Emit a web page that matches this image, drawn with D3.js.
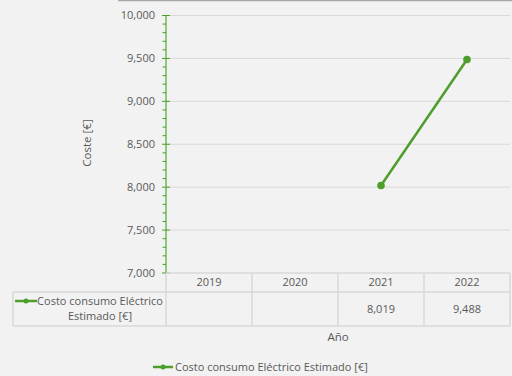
<!DOCTYPE html>
<html>
<head>
<meta charset="utf-8">
<script src="https://cdn.jsdelivr.net/npm/d3@7"></script>
<style>
  body { margin: 0; background: #f2f2f2; }
  svg { display: block; font-family: "Open Sans", "Noto Sans", sans-serif; }
  .tick-label { font-size: 11px; fill: #595959; }
  .axis-title { font-size: 11.5px; fill: #595959; }
</style>
</head>
<body>
<svg id="chart" width="512" height="376"></svg>
<script>

/* DATA */

const years = ["2019", "2020", "2021", "2022"];
const costs = [null, null, 8019, 9488];
const costLabels = ["", "", "8,019", "9,488"];
const yTicks = [7000, 7500, 8000, 8500, 9000, 9500, 10000];
const seriesName = "Costo consumo Eléctrico Estimado [€]";
const seriesNameLines = ["Costo consumo Eléctrico", "Estimado [€]"];

const green = "#4e9e2b";
const gridColor = "#d9d9d9";

let svg = d3.select("svg#chart");

svg.append("rect").attr("width", 512).attr("height", 376).attr("fill", "#f2f2f2");
// top border
svg.append("line").attr("x1", 118).attr("x2", 512).attr("y1", 0.5).attr("y2", 0.5)
  .attr("stroke", "#a6a6a6").attr("stroke-width", 1.5);

/* SCALES */

let xScale = d3.scaleBand().domain(years).range([166, 510]);
let yScale = d3.scaleLinear().domain([7000, 10000]).range([273, 15.5]);

/* GRID */

svg.append("g").selectAll("line")
  .data(yTicks.slice(1))
  .join("line")
  .attr("x1", 166).attr("x2", 510)
  .attr("y1", d => yScale(d)).attr("y2", d => yScale(d))
  .attr("stroke", gridColor).attr("stroke-width", 1);

/* Y AXIS */

const minorTicks = d3.range(7000, 10001, 100);
svg.append("line").attr("x1", 166).attr("x2", 166)
  .attr("y1", yScale(10000)).attr("y2", yScale(7000))
  .attr("stroke", "#8cc97a").attr("stroke-width", 2);

svg.append("g").selectAll("line")
  .data(minorTicks)
  .join("line")
  .attr("x1", d => d % 500 === 0 ? 162 : 162.5)
  .attr("x2", d => d % 500 === 0 ? 170 : 166)
  .attr("y1", d => yScale(d)).attr("y2", d => yScale(d))
  .attr("stroke", green).attr("stroke-width", 1);

svg.append("g").selectAll("text")
  .data(yTicks)
  .join("text")
  .attr("class", "tick-label")
  .attr("x", 155).attr("y", d => yScale(d))
  .attr("dy", "0.35em")
  .attr("text-anchor", "end")
  .text(d => d3.format(",")(d));

/* Y TITLE */

svg.append("text")
  .attr("class", "axis-title")
  .attr("transform", "translate(87," + 143 + ") rotate(-90)")
  .attr("dy", "0.35em")
  .attr("text-anchor", "middle")
  .text("Coste [€]");

/* DATA TABLE */

const tableTop = 273, rowLine = 292, tableBottom = 326, legendLeft = 13;
const table = svg.append("g").attr("stroke", gridColor).attr("stroke-width", 1.5);
table.append("line").attr("x1", 166).attr("x2", 510).attr("y1", tableTop).attr("y2", tableTop);
table.append("line").attr("x1", legendLeft).attr("x2", 510).attr("y1", rowLine).attr("y2", rowLine);
table.append("line").attr("x1", legendLeft).attr("x2", 510).attr("y1", tableBottom).attr("y2", tableBottom);
table.append("line").attr("x1", legendLeft).attr("x2", legendLeft).attr("y1", rowLine).attr("y2", tableBottom);
table.selectAll("line.col")
  .data(years.concat(["end"]))
  .join("line")
  .attr("class", "col")
  .attr("x1", (d, i) => i < years.length ? xScale(d) : xScale.range()[1])
  .attr("x2", (d, i) => i < years.length ? xScale(d) : xScale.range()[1])
  .attr("y1", tableTop).attr("y2", tableBottom);

svg.append("g").selectAll("text")
  .data(years)
  .join("text")
  .attr("class", "tick-label")
  .attr("x", d => xScale(d) + xScale.bandwidth() / 2)
  .attr("y", (tableTop + rowLine) / 2)
  .attr("dy", "0.35em")
  .attr("text-anchor", "middle")
  .text(d => d);

svg.append("g").selectAll("text")
  .data(costLabels)
  .join("text")
  .attr("class", "tick-label")
  .attr("x", (d, i) => xScale(years[i]) + xScale.bandwidth() / 2)
  .attr("y", (rowLine + tableBottom) / 2)
  .attr("dy", "0.35em")
  .attr("text-anchor", "middle")
  .text(d => d);

// legend key inside the table
const key = svg.append("g");
key.append("line").attr("x1", 15).attr("x2", 37).attr("y1", 301).attr("y2", 301)
  .attr("stroke", green).attr("stroke-width", 2.5);
key.append("circle").attr("cx", 26).attr("cy", 301).attr("r", 2.5).attr("fill", green);
key.append("text").attr("class", "tick-label")
  .attr("x", 163).attr("y", 301).attr("dy", "0.35em")
  .attr("text-anchor", "end").text(seriesNameLines[0]);
key.append("text").attr("class", "tick-label")
  .attr("x", 100).attr("y", 316).attr("dy", "0.35em")
  .attr("text-anchor", "middle").text(seriesNameLines[1]);

/* X TITLE */

svg.append("text")
  .attr("class", "axis-title")
  .attr("x", 338).attr("y", 337)
  .attr("dy", "0.35em")
  .attr("text-anchor", "middle")
  .text("Año");

/* LINE */

const points = years.map((y, i) => ({ year: y, value: costs[i] })).filter(d => d.value !== null);

svg.append("path")
  .datum(points)
  .attr("fill", "none")
  .attr("stroke", green)
  .attr("stroke-width", 2.5)
  .attr("d", d3.line()
    .x(d => xScale(d.year) + xScale.bandwidth() / 2)
    .y(d => yScale(d.value)));

svg.append("g").selectAll("circle")
  .data(points)
  .join("circle")
  .attr("cx", d => xScale(d.year) + xScale.bandwidth() / 2)
  .attr("cy", d => yScale(d.value))
  .attr("r", 3.8)
  .attr("fill", green);

/* LEGEND */

const legend = svg.append("g");
legend.append("line").attr("x1", 153).attr("x2", 173).attr("y1", 367).attr("y2", 367)
  .attr("stroke", green).attr("stroke-width", 2.5);
legend.append("circle").attr("cx", 163).attr("cy", 367).attr("r", 2.5).attr("fill", green);
legend.append("text").attr("class", "tick-label")
  .attr("x", 175).attr("y", 367).attr("dy", "0.35em")
  .text(seriesName);

</script>
</body>
</html>
